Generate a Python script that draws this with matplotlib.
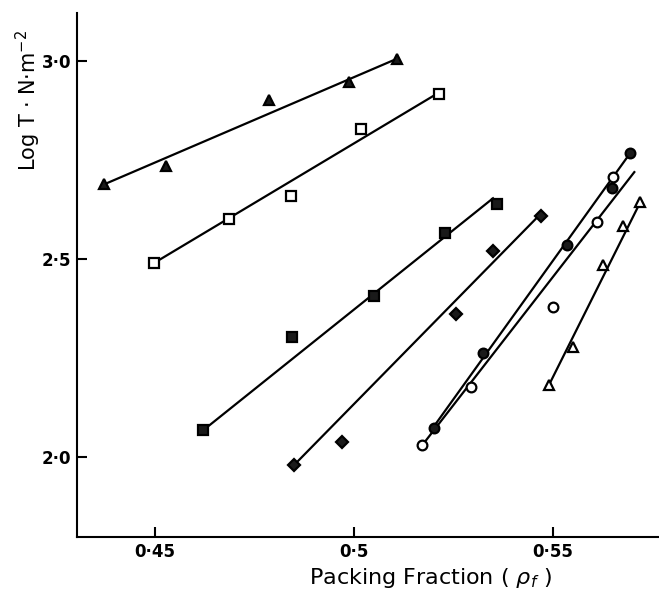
import matplotlib
matplotlib.use("Agg")
import matplotlib.pyplot as plt
from matplotlib.ticker import FixedLocator, FixedFormatter

# ---- data ----
tri_f_x = [0.4372, 0.4528, 0.4786, 0.4987, 0.5108]
tri_f_y = [2.688, 2.734, 2.900, 2.947, 3.005]
tri_f_line_x = [0.4372, 0.5108]
tri_f_line_y = [2.688, 3.005]

sq_o_x = [0.4498, 0.4686, 0.4842, 0.5018, 0.5214]
sq_o_y = [2.490, 2.600, 2.660, 2.827, 2.915]
sq_o_line_x = [0.4498, 0.5214]
sq_o_line_y = [2.490, 2.920]

sq_f_x = [0.4621, 0.4844, 0.5050, 0.5229, 0.5359]
sq_f_y = [2.068, 2.304, 2.407, 2.565, 2.638]
sq_f_line_x = [0.4621, 0.5349]
sq_f_line_y = [2.068, 2.653]

dia_x = [0.4849, 0.4970, 0.5256, 0.5349, 0.5470]
dia_y = [1.980, 2.038, 2.360, 2.520, 2.608]
dia_line_x = [0.4849, 0.5470]
dia_line_y = [1.980, 2.615]

circ_f_x = [0.5201, 0.5324, 0.5535, 0.5648, 0.5693]
circ_f_y = [2.075, 2.264, 2.535, 2.678, 2.766]
circ_f_line_x = [0.5195, 0.5693]
circ_f_line_y = [2.070, 2.766]

circ_o_x = [0.5171, 0.5294, 0.5500, 0.5610, 0.5650]
circ_o_y = [2.030, 2.176, 2.380, 2.593, 2.706]
circ_o_line_x = [0.5171, 0.5704]
circ_o_line_y = [2.030, 2.719]

tri_o_x = [0.5490, 0.5550, 0.5626, 0.5676, 0.5719]
tri_o_y = [2.183, 2.279, 2.485, 2.583, 2.643]
tri_o_line_x = [0.5490, 0.5719]
tri_o_line_y = [2.183, 2.643]

x_ticks = [0.45, 0.50, 0.55]
x_tick_labels = ["0·45", "0·5", "0·55"]
y_ticks = [2.0, 2.5, 3.0]
y_tick_labels = ["2·0", "2·5", "3·0"]

# ---- figure ----
fig = plt.figure(figsize=(6.59, 5.94), dpi=100)
ax = fig.add_axes([0.1168, 0.096, 0.8832, 0.882])

lw = 1.6
series = [
    (tri_f_x, tri_f_y, tri_f_line_x, tri_f_line_y, "^", True),
    (sq_o_x, sq_o_y, sq_o_line_x, sq_o_line_y, "s", False),
    (sq_f_x, sq_f_y, sq_f_line_x, sq_f_line_y, "s", True),
    (dia_x, dia_y, dia_line_x, dia_line_y, "D", True),
    (circ_f_x, circ_f_y, circ_f_line_x, circ_f_line_y, "o", True),
    (circ_o_x, circ_o_y, circ_o_line_x, circ_o_line_y, "o", False),
    (tri_o_x, tri_o_y, tri_o_line_x, tri_o_line_y, "^", False),
]
for xs, ys, lx, ly, m, filled in series:
    ax.plot(lx, ly, color="black", lw=lw, zorder=2)
    ms = 7 if m != "D" else 6
    ax.plot(xs, ys, linestyle="none", marker=m, markersize=ms,
            markerfacecolor=("#1a1a1a" if filled else "white"),
            markeredgecolor="black", markeredgewidth=1.6, zorder=3)

ax.set_xlim(0.4304, 0.5766)
ax.set_ylim(1.799, 3.12)

ax.spines["top"].set_visible(False)
ax.spines["right"].set_visible(False)
ax.spines["left"].set_linewidth(1.5)
ax.spines["bottom"].set_linewidth(1.5)

ax.xaxis.set_major_locator(FixedLocator(x_ticks))
ax.xaxis.set_major_formatter(FixedFormatter(x_tick_labels))
ax.yaxis.set_major_locator(FixedLocator(y_ticks))
ax.yaxis.set_major_formatter(FixedFormatter(y_tick_labels))
ax.tick_params(axis="both", direction="in", length=7, width=1.5,
               labelsize=12, pad=4)
for lab in ax.get_xticklabels() + ax.get_yticklabels():
    lab.set_fontweight("bold")

ax.set_xlabel(r"Packing Fraction ( $\rho_f$ )", fontsize=16)
ax.xaxis.set_label_coords(0.607, -0.056)
ax.set_ylabel(r"Log T · N·m$^{-2}$", fontsize=15)
ax.yaxis.set_label_coords(-0.058, 0.834)

fig.savefig("out.png", dpi=100)
